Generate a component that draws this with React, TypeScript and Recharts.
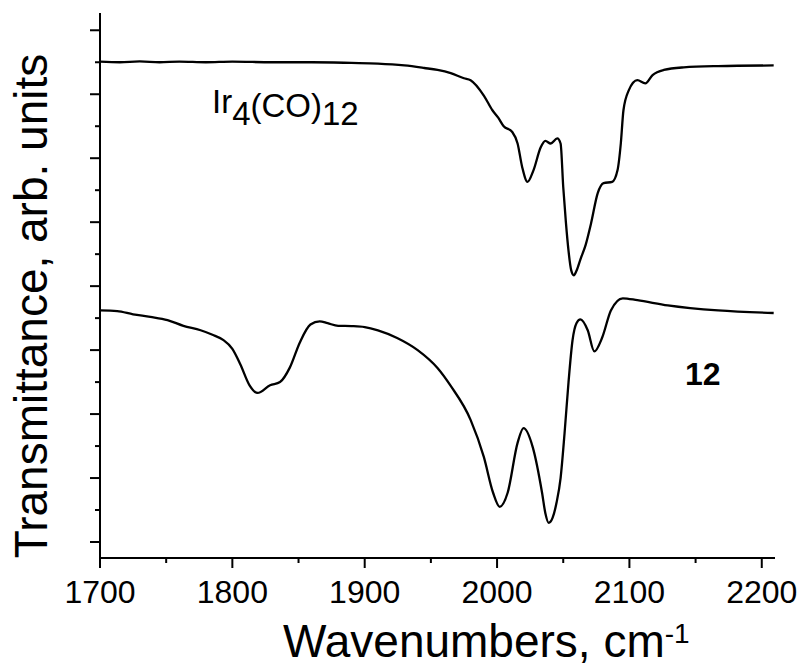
import React from "react";
import { LineChart, Line, XAxis, YAxis } from "recharts";

// Ir4(CO)12 spectrum (upper trace)
const topWn = [
  1700, 1715, 1730, 1745, 1760, 1780, 1800, 1830, 1860, 1890, 1910, 1930, 1945, 1955, 1965,
  1975, 1980, 1990, 1996.5, 2001, 2005, 2011.5, 2015.5, 2019, 2023, 2027.5, 2033, 2036.5, 2040.5, 2045.5,
  2048, 2050, 2052, 2054, 2056, 2058, 2060, 2063, 2067, 2071, 2076, 2080.5, 2087, 2091, 2093.5, 2095.5,
  2099.5, 2106, 2112, 2117.5, 2126, 2141, 2167, 2209,
];
const topT = [
  7.51, 7.5, 7.515, 7.5, 7.51, 7.5, 7.51, 7.5, 7.5, 7.49, 7.48, 7.45, 7.41, 7.38, 7.33,
  7.25, 7.22, 6.98, 6.75, 6.63, 6.5, 6.41, 6.23, 5.86, 5.63, 5.81, 6.17, 6.27, 6.23, 6.31,
  6.23, 5.55, 5.0, 4.55, 4.25, 4.17, 4.24, 4.42, 4.65, 4.98, 5.45, 5.61, 5.63, 5.81, 6.23, 6.75,
  7.06, 7.22, 7.17, 7.3, 7.38, 7.42, 7.44, 7.45,
];

// compound 12 spectrum (lower trace)
const botWn = [
  1700, 1713, 1725, 1738, 1751, 1763, 1776, 1785, 1793, 1800, 1806, 1813, 1819, 1828.5, 1836, 1843.5,
  1851, 1859, 1866, 1872, 1880, 1890, 1900, 1910, 1924.5, 1940, 1955, 1965, 1980, 1990, 1997, 2002, 2008,
  2015.5, 2020, 2027, 2034, 2036.5, 2039, 2042, 2045, 2048, 2051, 2054, 2057, 2060, 2063, 2068.5, 2073.5,
  2079.5, 2086, 2095, 2106, 2129, 2167, 2209,
];
const botT = [
  3.62, 3.61, 3.56, 3.52, 3.47, 3.38, 3.31, 3.24, 3.16, 3.02, 2.78, 2.45, 2.33, 2.45, 2.5, 2.73,
  3.12, 3.4, 3.45, 3.42, 3.38, 3.375, 3.36, 3.31, 3.19, 3.0, 2.72, 2.44, 1.91, 1.33, 0.77, 0.55, 0.77,
  1.55, 1.78, 1.48, 0.77, 0.45, 0.3, 0.38, 0.62, 1.0, 1.7, 2.5, 3.15, 3.42, 3.48, 3.31, 2.98,
  3.2, 3.62, 3.81, 3.78, 3.7, 3.62, 3.58,
];

const xTicks = [1700, 1750, 1800, 1850, 1900, 1950, 2000, 2050, 2100, 2150, 2200];
const yTicks = [0, 0.5, 1, 1.5, 2, 2.5, 3, 3.5, 4, 4.5, 5, 5.5, 6, 6.5, 7, 7.5, 8];

const topData = topWn.map((wn, i) => ({ wn, t: topT[i] }));
const botData = botWn.map((wn, i) => ({ wn, t: botT[i] }));

const FONT = "Arial, 'Liberation Sans', sans-serif";

const XTick = (props: any) => {
  const { x, y, payload } = props;
  const major = payload.value % 100 === 0;
  return (
    <g>
      <line x1={x} x2={x} y1={y} y2={y + (major ? 10 : 5)} stroke="#000" strokeWidth={2} />
      {major && (
        <text x={x} y={y + 45} textAnchor="middle" fontSize={32} fontFamily={FONT} fill="#000">
          {payload.value}
        </text>
      )}
    </g>
  );
};

const YTick = (props: any) => {
  const { x, y, payload } = props;
  const len = payload.value % 1 === 0 ? 10 : 5;
  return <line x1={x - len} x2={x} y1={y} y2={y} stroke="#000" strokeWidth={2} />;
};

export default function App() {
  return (
    <div style={{ position: "absolute", left: 0, top: 0, width: 801, height: 668, background: "#fff" }}>
      <LineChart width={801} height={668} margin={{ top: 13, right: 26, bottom: 50, left: 40 }}>
        <XAxis
          type="number"
          dataKey="wn"
          domain={[1700, 2210]}
          ticks={xTicks}
          allowDataOverflow
          height={60}
          tickSize={0}
          tickMargin={0}
          tickLine={false}
          axisLine={{ stroke: "#000", strokeWidth: 2 }}
          tick={<XTick />}
        />
        <YAxis
          type="number"
          domain={[-0.25, 8.27]}
          ticks={yTicks}
          allowDataOverflow
          width={60}
          tickSize={0}
          tickMargin={0}
          tickLine={false}
          axisLine={{ stroke: "#000", strokeWidth: 2 }}
          tick={<YTick />}
        />
        <Line data={topData} dataKey="t" type="monotone" stroke="#000" strokeWidth={2.3} dot={false} isAnimationActive={false} />
        <Line data={botData} dataKey="t" type="monotone" stroke="#000" strokeWidth={2.3} dot={false} isAnimationActive={false} />
        <text x={283} y={657} fontSize={46} fontFamily={FONT} fill="#000">
          Wavenumbers, cm
          <tspan fontSize={28} dy={-14}>-1</tspan>
        </text>
        <text
          x={47}
          y={306}
          transform="rotate(-90 47 306)"
          textAnchor="middle"
          fontSize={46}
          fontFamily={FONT}
          fill="#000"
        >
          Transmittance, arb. units
        </text>
        <text x={212} y={113} fontSize={33} fontFamily={FONT} fill="#000">
          Ir
          <tspan dy={12}>4</tspan>
          <tspan dy={-8}>(CO)</tspan>
          <tspan dy={8}>12</tspan>
        </text>
        <text x={685} y={385} fontSize={32} fontWeight="bold" fontFamily={FONT} fill="#000">
          12
        </text>
      </LineChart>
    </div>
  );
}
